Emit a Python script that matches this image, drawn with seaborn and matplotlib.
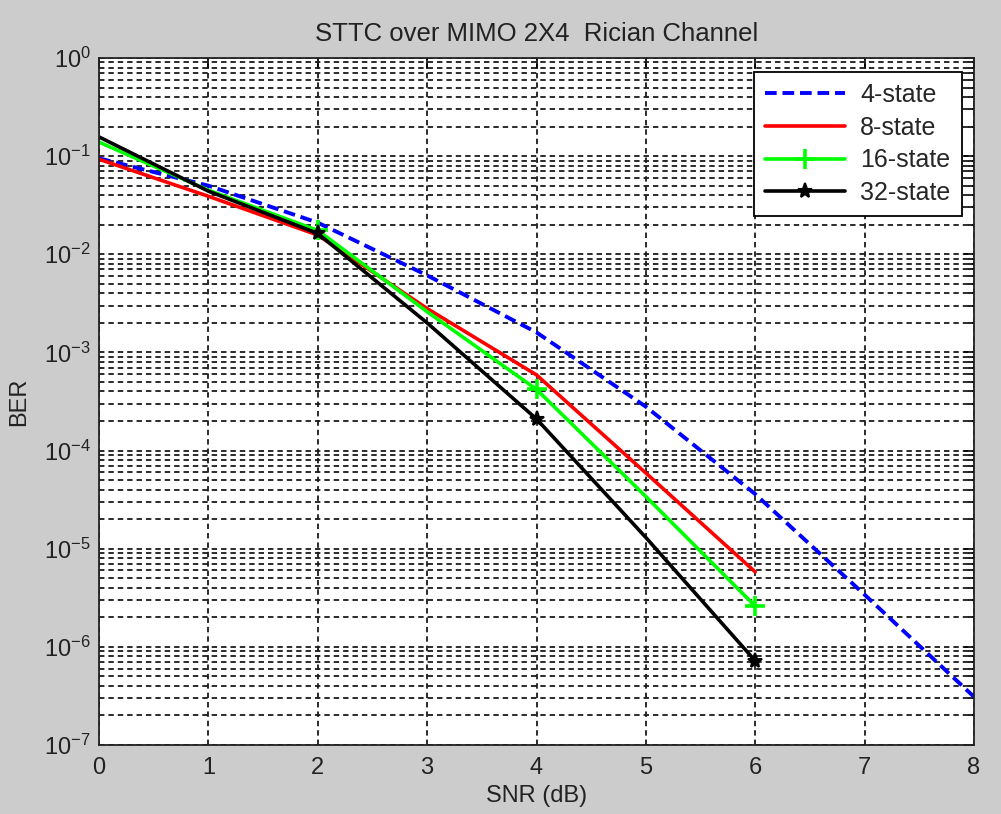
import numpy as np
import pandas as pd
import matplotlib
matplotlib.use("Agg")
import matplotlib.pyplot as plt
import seaborn as sns
from matplotlib.ticker import NullFormatter, FixedLocator, LogFormatterSciNotation

snr_long = [0, 1, 2, 3, 4, 5, 6, 7, 8]
snr_short = [0, 1, 2, 3, 4, 5, 6]
ber_4 = [0.095, 0.05, 0.021, 0.0061, 0.0016, 2.8e-4, 3.6e-5, 3.4e-6, 3.1e-7]
ber_8 = [0.093, 0.039, 0.0157, 0.0028, 5.9e-4, 5.9e-5, 5.8e-6]
ber_16 = [0.139, 0.045, 0.0175, 0.0026, 4.2e-4, 3.4e-5, 2.6e-6]
ber_32 = [0.157, 0.044, 0.0163, 0.0020, 2.1e-4, 1.3e-5, 7.2e-7]
labels = ["4-state", "8-state", "16-state", "32-state"]
title = "STTC over MIMO 2X4  Rician Channel"
xticks = [0, 1, 2, 3, 4, 5, 6, 7, 8]
yexps = [-7, -6, -5, -4, -3, -2, -1, 0]

sns.set_style("white")
plt.rcParams['font.family'] = ['Liberation Sans', 'DejaVu Sans']

fig = plt.figure(figsize=(10.01, 8.14), dpi=100, facecolor="#cccccc")
ax = fig.add_axes([99/1001, 1 - 745/814, (974-99)/1001, (745-58)/814])
ax.set_facecolor("white")

series = [
    (snr_long, ber_4, dict(color="#0000ff", linestyle=(0, (3.0, 1.5)), linewidth=2.8)),
    (snr_short, ber_8, dict(color="#ff0000", linestyle="-", linewidth=2.6)),
    (snr_short, ber_16, dict(color="#00ff00", linestyle="-", linewidth=2.6,
                             marker="+", markersize=15, markeredgewidth=2.6,
                             markeredgecolor="#00ff00", markevery=[2, 4, 6])),
    (snr_short, ber_32, dict(color="black", linestyle="-", linewidth=2.6,
                             marker="*", markersize=11, markeredgewidth=1.5,
                             markeredgecolor="black", markerfacecolor="black",
                             markevery=[2, 4, 6])),
]
for (xs, ys, st), lab in zip(series, labels):
    df = pd.DataFrame({"SNR": xs, "BER": ys})
    sns.lineplot(data=df, x="SNR", y="BER", ax=ax, label=lab, **st)

ax.set_yscale("log")
ax.set_xlim(0, 8)
ax.set_ylim(1e-7, 1)
ax.xaxis.set_major_locator(FixedLocator(xticks))
ax.yaxis.set_major_locator(FixedLocator([10.0**e for e in yexps]))
ax.yaxis.set_major_formatter(LogFormatterSciNotation())
minor = [m * 10.0**e for e in yexps[:-1] for m in range(2, 10)]
ax.yaxis.set_minor_locator(FixedLocator(minor))
ax.yaxis.set_minor_formatter(NullFormatter())

gstyle = dict(color="#1a1a1a", linestyle=(0, (3.0, 2.2)), linewidth=1.3)
ax.grid(True, which="major", axis="both", **gstyle)
ax.grid(True, which="minor", axis="y", **gstyle)
ax.set_axisbelow(True)

ax.tick_params(which="both", direction="in", top=True, right=True, colors="black",
               labelsize=17, labelcolor="#222222")
ax.tick_params(which="major", length=7, width=1.2)
ax.tick_params(which="minor", length=4, width=1.2)
ax.tick_params(axis="x", pad=9)
ax.tick_params(axis="y", pad=6)
for s in ax.spines.values():
    s.set_color("#222222")
    s.set_linewidth(1.3)

ax.set_title(title, fontsize=18.5, color="#222222", pad=12)
ax.set_xlabel("SNR (dB)", fontsize=17, color="#222222", labelpad=4)
ax.set_ylabel("BER", fontsize=17, color="#222222", labelpad=10)

leg = ax.legend(loc="upper right", bbox_to_anchor=(0.986, 0.98), borderaxespad=0,
                fontsize=18, frameon=True, fancybox=False, edgecolor="black",
                framealpha=1, handlelength=3.2, borderpad=0.45, labelspacing=0.35,
                handletextpad=0.6)
leg.get_frame().set_linewidth(1.3)

fig.savefig("out.png", dpi=100, facecolor=fig.get_facecolor())
